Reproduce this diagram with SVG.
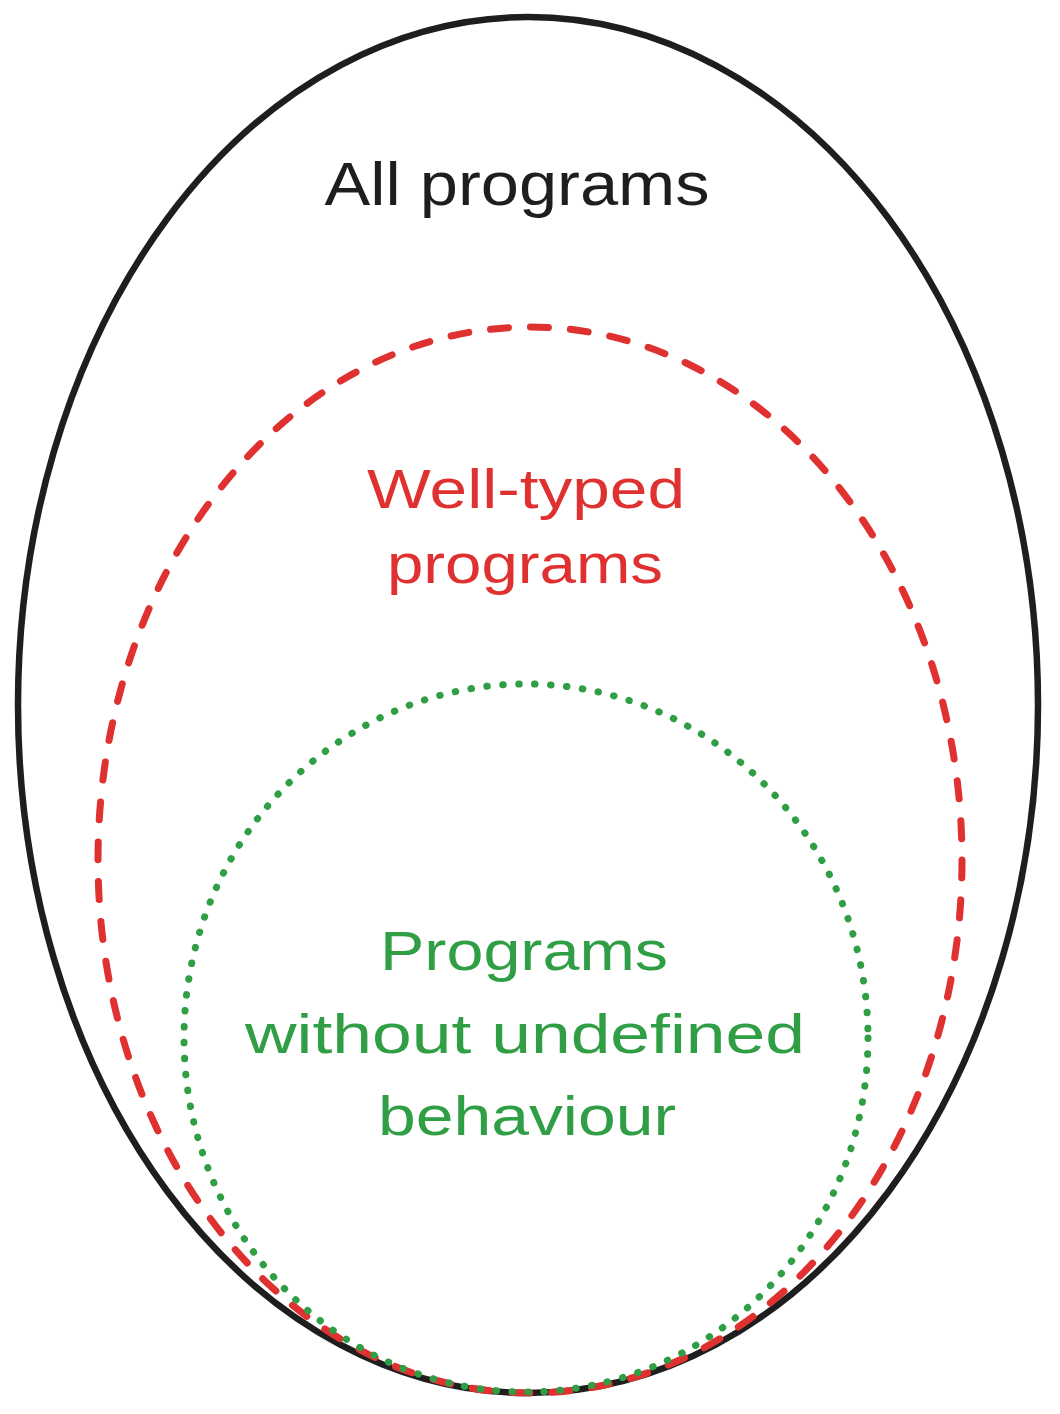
<svg xmlns="http://www.w3.org/2000/svg" width="1060" height="1414" viewBox="0 0 1060 1414">
<style>
.shape{fill:none;stroke-linecap:round;stroke-linejoin:round}
.black{stroke:#1e1e1e;stroke-width:6.5}
.red{stroke:#e03131;stroke-width:7;stroke-dasharray:18 22}
.green{stroke:#2f9e44;stroke-width:7;stroke-dasharray:0.5 15.5}
.t{font-family:"Liberation Sans","Noto Sans",sans-serif;text-anchor:middle}
</style>
<rect width="1060" height="1414" fill="#ffffff"/>
<g id="all-programs">
<ellipse class="shape black" cx="528" cy="705" rx="510" ry="688"/>
<text class="t" x="517" y="205" font-size="62" fill="#1e1e1e" textLength="385" lengthAdjust="spacingAndGlyphs">All programs</text>
</g>
<g id="well-typed">
<ellipse class="shape red" cx="530" cy="860" rx="432" ry="533"/>
<text class="t" x="526" y="508" fill="#e03131" font-size="56" textLength="318" lengthAdjust="spacingAndGlyphs">Well-typed</text>
<text class="t" x="525" y="583" fill="#e03131" font-size="56" textLength="276" lengthAdjust="spacingAndGlyphs">programs</text>
</g>
<g id="no-ub">
<ellipse class="shape green" cx="526" cy="1038" rx="342" ry="354"/>
<text class="t" x="524" y="970" fill="#2f9e44" font-size="56" textLength="288" lengthAdjust="spacingAndGlyphs">Programs</text>
<text class="t" x="525" y="1053" fill="#2f9e44" font-size="56" textLength="560" lengthAdjust="spacingAndGlyphs">without undefined</text>
<text class="t" x="527" y="1135" fill="#2f9e44" font-size="56" textLength="298" lengthAdjust="spacingAndGlyphs">behaviour</text>
</g>
<g id="connectors"/>
</svg>
